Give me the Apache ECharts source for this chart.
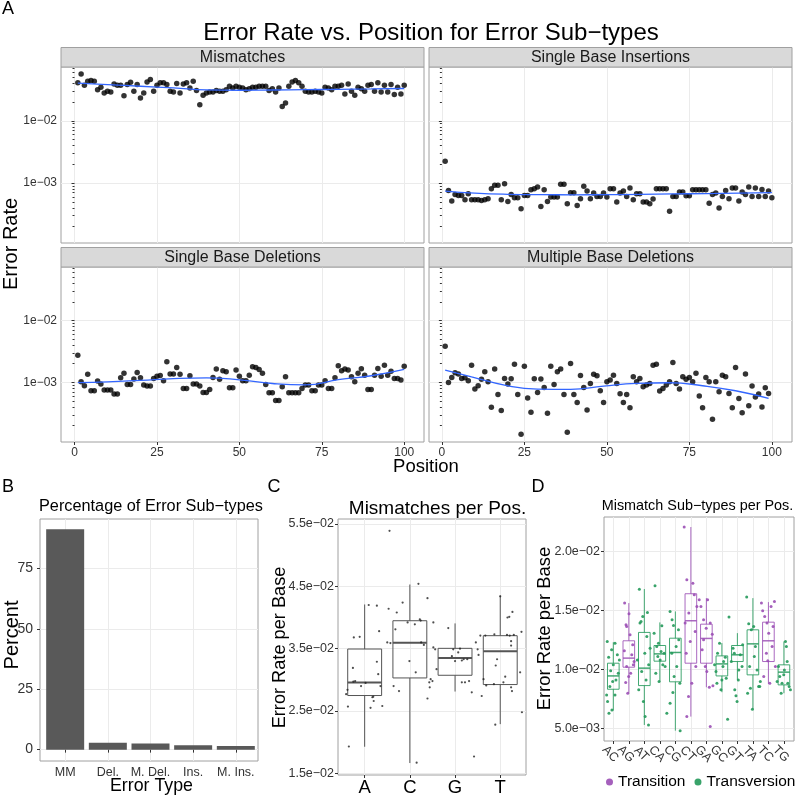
<!DOCTYPE html>
<html><head><meta charset="utf-8">
<script src="https://cdn.jsdelivr.net/npm/echarts@6/dist/echarts.min.js"></script>
<style>html,body{margin:0;padding:0;background:#fff}#c{width:800px;height:797px}</style>
</head><body><div id="c"></div>
<script>
const FONT = 'Liberation Sans, Arial, Helvetica, sans-serif';

// ---------- Panel A ----------
const facetTitles = ['Mismatches', 'Single Base Insertions', 'Single Base Deletions', 'Multiple Base Deletions'];
const mismatchRate = [
.0406,.0566,.0372,.0431,.0443,.0431,.0316,.0345,.0280,.0297,
.0290,.0391,.0372,.0372,.0253,.0381,.0416,.0297,.0381,.0232,
.0280,.0421,.0459,.0297,.0372,.0406,.0406,.0381,.0297,.0290,
.0396,.0280,.0391,.0406,.0337,.0431,.0305,.0181,.0256,.0280,
.0290,.0290,.0305,.0297,.0297,.0316,.0358,.0337,.0358,.0345,
.0337,.0316,.0328,.0345,.0345,.0358,.0358,.0358,.0305,.0328,
.0290,.0337,.0170,.0193,.0358,.0421,.0443,.0406,.0358,.0297,
.0290,.0290,.0297,.0290,.0280,.0345,.0337,.0316,.0358,.0358,
.0372,.0269,.0391,.0297,.0256,.0345,.0328,.0297,.0372,.0381,
.0297,.0406,.0290,.0372,.0290,.0381,.0263,.0345,.0269,.0372];
const insertionRate = [
.00224,.000762,.000513,.000657,.000634,.000634,.000540,.000673,.000540,.000540,
.000540,.000526,.000540,.000560,.000811,.000918,.000918,.000540,.000977,.000507,
.000657,.000581,.000581,.000386,.000634,.000634,.000782,.000811,.000863,.000421,
.000782,.000507,.000595,.000595,.000595,.000953,.000953,.000465,.000699,.000699,
.000437,.000560,.000885,.000744,.000560,.000690,.000610,.000610,.000690,.000595,
.000811,.000811,.000494,.000690,.000744,.000610,.000832,.000540,.000673,.000673,
.000494,.000494,.000465,.000553,.000811,.000811,.000811,.000811,.000354,.000610,
.000610,.000716,.000716,.000625,.000625,.000782,.000782,.000782,.000782,.000782,
.000476,.000657,.000690,.000396,.000610,.000762,.000560,.000832,.000832,.000513,
.000716,.000657,.000863,.000610,.000832,.000610,.000791,.000610,.000744,.000581];
const deletionRate = [
.00275,.00102,.000883,.00135,.000733,.000733,.00105,.000940,.000751,.000751,
.000751,.000648,.000648,.00119,.00140,.000927,.000927,.00113,.00145,.00119,
.000904,.000871,.000871,.00116,.00126,.00129,.00106,.00215,.00136,.00136,
.00174,.00135,.000800,.000800,.00128,.000940,.000940,.000871,.000689,.000689,
.000771,.00120,.00164,.00112,.00154,.00148,.000819,.000819,.00158,.00126,
.00106,.00106,.00131,.00179,.00174,.00162,.00140,.000927,.000680,.000680,
.000512,.000512,.000851,.00123,.000680,.000680,.000680,.000680,.000800,.000904,
.000904,.000733,.000733,.000904,.000904,.00106,.000800,.000800,.00119,.00185,
.00154,.00164,.00158,.00123,.00102,.00140,.00166,.00131,.000771,.000771,
.00131,.00168,.00126,.00190,.00131,.00152,.00116,.00116,.00109,.00183];
const multiDeletionRate = [
.00385,.00100,.00120,.00143,.00136,.00116,.00119,.00106,.00190,.000780,
.000883,.00112,.00148,.00102,.000395,.00164,.000640,.000353,.00116,.000940,
.00115,.00197,.000640,.000145,.00183,.000558,.000328,.00115,.000689,.00113,
.000830,.000316,.00183,.000927,.00148,.00164,.000640,.000156,.00202,.000640,
.000475,.00129,.000830,.000357,.000962,.00135,.00128,.000733,.000475,.00102,
.00109,.00131,.000962,.000656,.000475,.000640,.000390,.00123,.00102,.00116,
.000851,.000904,.000962,.00190,.00197,.000724,.000800,.000904,.00102,.00210,
.000962,.000780,.00123,.00112,.00120,.00102,.00140,.000601,.000390,.00120,
.00102,.000253,.00102,.000706,.00131,.00123,.000664,.000390,.00174,.000551,
.000324,.00136,.000420,.000871,.000579,.000648,.000400,.000819,.000664];
const smoothX = [1,10,20,30,40,50,60,70,80,90,100];
const mismatchSmooth = [.0403,.0381,.0358,.0337,.0313,.0309,.0312,.0316,.0320,.0324,.0330];
const insertionSmooth = [.000744,.000690,.000660,.000650,.000648,.000650,.000658,.000668,.000678,.000688,.000700];
const deletionSmooth = [.00099,.00102,.00108,.00115,.00118,.00110,.00096,.00091,.00111,.00128,.00162];
const multiSmoothX = [1,9,19,29,39,49,59,69,79,89,99];
const multiDeletionSmooth = [.00158,.00123,.000904,.000779,.000771,.000871,.000964,.000986,.000883,.000733,.000552];
const positionTicks = [0,25,50,75,100];
const rateTicks = [0.001, 0.01];
const rateTickLabels = ['1e\u221203', '1e\u221202'];

// ---------- Panel B ----------
const errorTypes = ['MM', 'Del.', 'M. Del.', 'Ins.', 'M. Ins.'];
const errorPercent = [91.2, 2.9, 2.5, 1.8, 1.5];
const percentTicks = [0, 25, 50, 75];

// ---------- Panel C ----------
const bases = ['A', 'C', 'G', 'T'];
const baseBoxes = [ // [lower whisker, Q1, median, Q3, upper whisker]
  [0.01926, 0.02748, 0.02956, 0.03494, 0.04209],
  [0.01665, 0.0303, 0.03596, 0.03948, 0.04529],
  [0.02812, 0.03073, 0.0335, 0.03505, 0.03905],
  [0.02289, 0.02924, 0.03457, 0.03708, 0.04353]];
const baseJitterX = [
0.59,0.62,0.63,0.65,0.74,0.75,0.76,0.79,0.89,0.92,1.02,1.09,1.13,1.17,1.19,1.20,1.27,1.27,1.30,1.32,1.35,1.39,
1.50,1.53,1.55,1.57,1.64,1.68,1.71,1.76,1.84,1.95,1.99,2.11,2.13,2.15,2.19,2.22,2.24,2.25,2.31,2.39,2.39,2.43,2.44,2.46,2.52,2.52,
2.50,2.56,2.59,2.85,2.93,2.96,3.00,3.07,3.11,3.15,3.15,3.19,3.22,3.27,3.31,3.37,3.42,3.46,3.50,3.52,3.56,
3.59,3.63,3.67,3.69,3.86,3.87,3.89,3.90,3.93,4.00,4.07,4.11,4.15,4.16,4.20,4.21,4.24,4.24,4.24,4.26,4.27,4.30,4.44,4.47,4.48];
const baseJitterY = [
0.0277,0.0284,0.0257,0.0193,0.0319,0.0297,0.0368,0.0298,0.0369,0.0290,0.0295,0.0420,0.0255,0.0272,0.0273,0.0266,0.0419,0.0329,0.0309,0.0378,0.0290,0.0258,
0.0360,0.0414,0.0539,0.0359,0.0290,0.0381,0.0408,0.0282,0.0424,0.0392,0.0330,0.0389,0.0312,0.0167,0.0454,0.0397,0.0395,0.0360,0.0356,0.0431,0.0270,0.0296,0.0288,0.0301,0.0392,0.0352,
0.0298,0.0349,0.0317,0.0383,0.0338,0.0349,0.0330,0.0344,0.0350,0.0296,0.0331,0.0333,0.0296,0.0333,0.0298,0.0280,0.0177,0.0360,0.0349,0.0340,0.0371,
0.0274,0.0301,0.0371,0.0291,0.0293,0.0373,0.0228,0.0323,0.0333,0.0434,0.0296,0.0305,0.0372,0.0400,0.0401,0.0371,0.0355,0.0362,0.0288,0.0282,0.0409,0.0372,0.0312,0.0377,0.0248];
const baseTicks = [0.015, 0.025, 0.035, 0.045, 0.055];
const baseTickLabels = ['1.5e\u221202', '2.5e\u221202', '3.5e\u221202', '4.5e\u221202', '5.5e\u221202'];

// ---------- Panel D ----------
const subTypes = ['AC','AG','AT','CA','CG','CT','GA','GC','GT','TA','TC','TG'];
const subTypeClass = ['Transversion','Transition','Transversion','Transversion','Transversion','Transition',
                      'Transition','Transversion','Transversion','Transversion','Transition','Transversion'];
const subBoxes = [
  [0.0065, 0.00831, 0.00944, 0.01052, 0.0123],
  [0.00797, 0.01018, 0.01095, 0.01242, 0.01562],
  [0.00528, 0.00862, 0.0101, 0.01313, 0.01681],
  [0.00894, 0.01069, 0.01131, 0.01202, 0.01398],
  [0.0048, 0.00894, 0.01143, 0.01264, 0.01491],
  [0.00599, 0.01052, 0.01412, 0.01641, 0.02207],
  [0.00848, 0.01052, 0.01262, 0.01383, 0.01604],
  [0.00806, 0.00944, 0.01046, 0.01114, 0.01222],
  [0.0091, 0.01066, 0.01123, 0.01202, 0.01307],
  [0.00661, 0.00953, 0.01216, 0.01335, 0.01604],
  [0.00877, 0.01066, 0.01242, 0.014, 0.0157],
  [0.00797, 0.00868, 0.00976, 0.01038, 0.01236]];
const subJitterX = [
0.61,0.70,0.89,1.11,1.26,0.63,0.72,0.91,0.78,1.17,1.32,1.00,0.83,1.39,0.57,1.11,0.96,
1.73,1.82,1.86,2.01,2.08,1.93,1.80,2.19,2.29,2.12,1.99,1.71,2.25,2.34,1.86,
2.68,2.72,2.79,2.90,3.20,3.27,3.05,2.94,2.64,3.11,2.83,3.28,3.03,3.37,3.16,2.55,
3.69,3.63,3.80,4.13,4.28,4.02,3.87,4.19,3.74,3.95,4.34,4.08,3.91,
4.66,4.79,4.88,5.20,5.05,4.77,5.09,4.92,5.29,4.66,4.45,5.31,4.84,5.22,
5.57,5.74,5.87,5.96,6.13,6.22,5.70,6.32,6.06,5.74,5.85,6.28,5.63,6.39,
6.54,6.65,6.82,6.99,7.08,7.25,6.73,6.93,7.03,7.19,7.25,7.38,6.82,7.42,
7.53,7.62,7.72,7.85,8.00,8.11,8.22,7.94,8.28,8.37,7.68,8.07,
8.46,8.61,8.72,8.83,8.91,8.98,9.09,9.19,9.30,9.06,8.80,9.34,
9.60,9.73,9.90,10.05,10.16,10.27,10.37,9.84,9.66,9.97,10.44,10.09,9.79,10.48,
10.55,10.63,10.76,10.91,11.02,11.17,11.30,11.39,10.87,10.70,11.09,10.96,11.24,11.45,
11.65,11.73,11.88,11.99,12.10,12.16,12.25,12.34,12.42,11.82,11.56,12.21,12.03];
const subJitterY = [
.01236,.01103,.01165,.01222,.01123,.00726,.00627,.00656,.00854,.0091,.00967,.01038,.00987,.0108,.00783,.00783,.00896,
.01562,.01377,.01363,.01471,.01293,.00797,.00888,.01123,.01038,.00967,.00939,.01157,.01208,.01066,.01024,
.0168,.01392,.01406,.01448,.01482,.00528,.00599,.00726,.00826,.0091,.00981,.01038,.01137,.01179,.01278,.0108,
.01709,.01307,.01194,.01369,.01137,.0108,.01109,.01038,.00967,.00896,.01024,.01151,.01222,
.01491,.0142,.01372,.01335,.01194,.01137,.01024,.00939,.00882,.00712,.00627,.0048,.00803,.0125,
.02207,.0176,.01477,.01236,.01731,.01632,.01137,.01024,.00882,.00599,.00769,.01321,.01392,.01533,
.0159,.01533,.0142,.01349,.0159,.01392,.01165,.01024,.00981,.00848,.00514,.01298,.0125,.0086,
.01038,.00981,.01137,.01222,.0091,.01066,.01103,.00826,.00925,.00576,.00882,.01024,
.01443,.01066,.01179,.00826,.00775,.00726,.00995,.01123,.01024,.0091,.01137,.01208,
.01613,.01386,.01335,.01363,.01194,.00995,.00854,.0084,.00797,.00661,.00854,.01109,.01024,.00896,
.01562,.01497,.01448,.01392,.01307,.01533,.01363,.01576,.01137,.00939,.00882,.01072,.01194,.01024,
.01024,.00939,.00882,.00953,.01236,.01194,.00882,.00854,.00826,.00797,.00896,.01066,.00995];
const subTicks = [0.005, 0.01, 0.015, 0.02];
const subTickLabels = ['5.0e\u221203', '1.0e\u221202', '1.5e\u221202', '2.0e\u221202'];
const classNames = ['Transition', 'Transversion'];
const classColors = {Transition: '#9b4fb5', Transversion: '#23995a'};

// ---------- build ----------
const chart = echarts.init(document.getElementById('c'), null, {renderer: 'canvas'});
const GRID_LINE = '#ebebeb', BORDER = '#a0a0a0', TXT = '#333';

const gridsA = [
  {left: 61, top: 67, width: 363, height: 176},
  {left: 429, top: 67, width: 363, height: 176},
  {left: 61, top: 267, width: 363, height: 175},
  {left: 429, top: 267, width: 363, height: 175}];
const grids = gridsA.concat([
  {left: 40, top: 519, width: 218, height: 242},
  {left: 338, top: 519, width: 188, height: 257},
  {left: 604, top: 517, width: 190, height: 224}]).map(g => Object.assign({show: true, borderColor: BORDER, borderWidth: 1, backgroundColor: '#fff'}, g));

function nearestLabel(ticks, labels, v, log) {
  let best = 0, bd = Infinity;
  ticks.forEach((t, i) => { const d = log ? Math.abs(Math.log10(t) - Math.log10(v)) : Math.abs(t - v); if (d < bd) { bd = d; best = i; } });
  return labels[best];
}
const tickStyle = {length: 3, lineStyle: {color: TXT, width: 1}};
const xAxes = [], yAxes = [];
for (let i = 0; i < 4; i++) {
  const bottom = i >= 2, left = i % 2 === 0;
  xAxes.push({type: 'value', gridIndex: i, min: left ? -4.1 : -3.9, max: left ? 106 : 106.1,
    axisLine: {show: false},
    axisTick: Object.assign({show: bottom, customValues: positionTicks}, tickStyle),
    axisLabel: {show: bottom, customValues: positionTicks, margin: 5, fontSize: 12, color: TXT, fontFamily: FONT,
      showMinLabel: true, showMaxLabel: true},
    splitLine: {show: true, lineStyle: {color: GRID_LINE}}});
  yAxes.push({type: 'log', logBase: 10, gridIndex: i, min: 1.09e-4, max: 7.3e-2,
    axisLine: {show: false},
    axisTick: Object.assign({show: true, customValues: rateTicks}, tickStyle),
    minorTick: {show: true, splitNumber: 9, length: 2, lineStyle: {color: TXT, width: 1}},
    axisLabel: {show: left, customValues: rateTicks, margin: 4, fontSize: 12, color: TXT, fontFamily: FONT,
      formatter: v => nearestLabel(rateTicks, rateTickLabels, v, true)},
    splitLine: {show: true, lineStyle: {color: GRID_LINE}}});
}
// B
xAxes.push({type: 'value', gridIndex: 4, min: 0.41, max: 5.52,
  axisLine: {show: false}, axisTick: Object.assign({show: true, customValues: [1,2,3,4,5]}, tickStyle),
  axisLabel: {customValues: [1,2,3,4,5], margin: 5, fontSize: 12.5, color: TXT, fontFamily: FONT,
    showMinLabel: true, showMaxLabel: true, formatter: v => errorTypes[Math.round(v) - 1]},
  splitLine: {show: true, lineStyle: {color: GRID_LINE}}});
yAxes.push({type: 'value', gridIndex: 4, min: -4.7, max: 95.4,
  axisLine: {show: false}, axisTick: Object.assign({show: true, customValues: percentTicks}, tickStyle),
  axisLabel: {customValues: percentTicks, margin: 7, fontSize: 14, color: TXT, fontFamily: FONT},
  splitLine: {show: true, lineStyle: {color: GRID_LINE}}});
// C
xAxes.push({type: 'value', gridIndex: 5, min: 0.41, max: 4.57,
  axisLine: {show: false}, axisTick: Object.assign({show: true, customValues: [1,2,3,4]}, tickStyle),
  axisLabel: {customValues: [1,2,3,4], margin: 3, fontSize: 18.5, color: '#000', fontFamily: FONT,
    showMinLabel: true, showMaxLabel: true, formatter: v => bases[Math.round(v) - 1]},
  splitLine: {show: true, lineStyle: {color: GRID_LINE}}});
yAxes.push({type: 'value', gridIndex: 5, min: 0.01473, max: 0.0558,
  axisLine: {show: false}, axisTick: Object.assign({show: true, customValues: baseTicks}, tickStyle),
  axisLabel: {customValues: baseTicks, margin: 4, fontSize: 12.5, color: TXT, fontFamily: FONT,
    formatter: v => nearestLabel(baseTicks, baseTickLabels, v, false)},
  splitLine: {show: true, lineStyle: {color: GRID_LINE}}});
// D (tick labels are drawn by a custom series below, rotated like ggplot's)
const subTickPos = subTypes.map((s, i) => i + 1);
const dYMin = 0.00392, dYMax = 0.02292;
xAxes.push({type: 'value', gridIndex: 6, min: 0.4, max: 12.65,
  axisLine: {show: false}, axisTick: Object.assign({show: true, customValues: subTickPos}, tickStyle),
  axisLabel: {show: false, customValues: subTickPos},
  splitLine: {show: true, lineStyle: {color: GRID_LINE}}});
yAxes.push({type: 'value', gridIndex: 6, min: dYMin, max: dYMax,
  axisLine: {show: false}, axisTick: Object.assign({show: true, customValues: subTicks}, tickStyle),
  axisLabel: {customValues: subTicks, margin: 4, fontSize: 12.5, color: TXT, fontFamily: FONT,
    formatter: v => nearestLabel(subTicks, subTickLabels, v, false)},
  splitLine: {show: true, lineStyle: {color: GRID_LINE}}});

const series = [];
const panelRates = [mismatchRate, insertionRate, deletionRate, multiDeletionRate];
const panelSmoothX = [smoothX, smoothX, smoothX, multiSmoothX];
const panelSmoothY = [mismatchSmooth, insertionSmooth, deletionSmooth, multiDeletionSmooth];
for (let i = 0; i < 4; i++) {
  series.push({type: 'scatter', name: facetTitles[i], xAxisIndex: i, yAxisIndex: i, symbolSize: 5.5,
    itemStyle: {color: '#000'}, data: panelRates[i].map((v, k) => [k + 1, v]), z: 3});
  series.push({type: 'line', name: facetTitles[i] + ' smooth', xAxisIndex: i, yAxisIndex: i, smooth: 0.5,
    showSymbol: false, symbol: 'none', lineStyle: {color: '#3366ff', width: 1.3},
    data: panelSmoothX[i].map((x, k) => [x, panelSmoothY[i][k]]), z: 4});
}
// B bars
series.push({type: 'bar', name: 'Percent', xAxisIndex: 4, yAxisIndex: 4, barWidth: 38,
  itemStyle: {color: '#595959'}, data: errorPercent.map((v, k) => [k + 1, v])});

function boxSeries(name, xi, data, color, opacity, medW) {
  return {type: 'custom', name: name, xAxisIndex: xi, yAxisIndex: xi,
    encode: {x: 0, y: [1, 2, 3, 4, 5]}, data: data,
    renderItem: function (params, api) {
      const x = api.value(0);
      const p = [1, 2, 3, 4, 5].map(k => api.coord([x, api.value(k)]));
      const w = api.size([0.75, 0])[0];
      const st = {stroke: color, lineWidth: 1, fill: null, opacity: opacity};
      return {type: 'group', children: [
        {type: 'line', shape: {x1: p[0][0], y1: p[0][1], x2: p[1][0], y2: p[1][1]}, style: st},
        {type: 'line', shape: {x1: p[3][0], y1: p[3][1], x2: p[4][0], y2: p[4][1]}, style: st},
        {type: 'rect', shape: {x: p[1][0] - w / 2, y: p[3][1], width: w, height: p[1][1] - p[3][1]}, style: st},
        {type: 'line', shape: {x1: p[2][0] - w / 2, y1: p[2][1], x2: p[2][0] + w / 2, y2: p[2][1]},
          style: {stroke: color, lineWidth: medW, opacity: opacity}}]};
    }, z: 2};
}
// C
series.push(boxSeries('Base boxes', 5, baseBoxes.map((b, k) => [k + 1].concat(b)), '#555', 1, 2));
series.push({type: 'scatter', name: 'Base points', xAxisIndex: 5, yAxisIndex: 5, symbolSize: 2.2,
  itemStyle: {color: '#222'}, data: baseJitterX.map((x, k) => [x, baseJitterY[k]]), z: 3});
// D
classNames.forEach(cn => {
  const idx = subTypes.map((s, i) => i).filter(i => subTypeClass[i] === cn);
  series.push(boxSeries(cn + ' boxes', 6, idx.map(i => [i + 1].concat(subBoxes[i])), classColors[cn], 0.85, 1.5));
});
classNames.forEach(cn => {
  const pts = [];
  subJitterX.forEach((x, k) => { if (subTypeClass[Math.round(x) - 1] === cn) pts.push([x, subJitterY[k]]); });
  series.push({type: 'scatter', name: cn, xAxisIndex: 6, yAxisIndex: 6, symbolSize: 3,
    itemStyle: {color: classColors[cn], opacity: 0.9}, data: pts, z: 3});
});
// D rotated category labels, positioned through the axis scale
series.push({type: 'custom', name: 'Sub-type labels', xAxisIndex: 6, yAxisIndex: 6, clip: false, silent: true,
  data: subTickPos.map(x => [x, dYMin]),
  renderItem: function (params, api) {
    const p = api.coord([api.value(0), api.value(1)]);
    return {type: 'text', x: p[0] - 3, y: p[1] + 13, rotation: -Math.PI / 4,
      style: {text: subTypes[params.dataIndex], fontSize: 12.5, fontFamily: FONT, fill: TXT,
        align: 'center', verticalAlign: 'middle'}};
  }, z: 5});

function txt(text, x, y, size, opts) {
  return Object.assign({type: 'text', x: x, y: y, silent: true, z: 10,
    style: {text: text, fontSize: size, fontFamily: FONT, fill: '#000', align: 'center', verticalAlign: 'middle'}}, opts || {});
}
const graphic = [];
gridsA.forEach((g, i) => {
  graphic.push({type: 'rect', shape: {x: g.left, y: g.top - 19.5, width: g.width, height: 19.5},
    style: {fill: '#d9d9d9', stroke: BORDER, lineWidth: 1}, z: 5});
  graphic.push(txt(facetTitles[i], g.left + g.width / 2, g.top - 9.5, 16, {style: {text: facetTitles[i], fontSize: 16, fontFamily: FONT, fill: '#1a1a1a', align: 'center', verticalAlign: 'middle'}}));
});
graphic.push(txt('Error Rate vs. Position for Error Sub\u2212types', 431, 33.5, 24));
graphic.push(txt('A', 8, 9, 18));
graphic.push(txt('Error Rate', 11.5, 244, 20, {rotation: Math.PI / 2}));
graphic.push(txt('Position', 426, 466.5, 18.5));
graphic.push(txt('B', 8, 487, 18));
graphic.push(txt('Percentage of Error Sub\u2212types', 151, 507, 16.3));
graphic.push(txt('Percent', 12, 635, 20, {rotation: Math.PI / 2}));
graphic.push(txt('Error Type', 151.5, 786, 17.8));
graphic.push(txt('C', 274, 487, 18));
graphic.push(txt('Mismatches per Pos.', 437.5, 508.5, 19));
graphic.push(txt('Error Rate per Base', 279.5, 647.5, 18.2, {rotation: Math.PI / 2}));
graphic.push(txt('D', 538, 487, 18));
graphic.push(txt('Mismatch Sub\u2212types per Pos.', 697.5, 506.5, 14.4));
graphic.push(txt('Error Rate per Base', 545, 628.5, 18.4, {rotation: Math.PI / 2}));

chart.setOption({
  animation: false,
  backgroundColor: '#fff',
  textStyle: {fontFamily: FONT},
  grid: grids,
  xAxis: xAxes,
  yAxis: yAxes,
  legend: {data: classNames, left: 606, top: 774, padding: 0, icon: 'circle', itemWidth: 7, itemHeight: 7,
    itemGap: 9, selectedMode: false, textStyle: {fontSize: 15.5, fontFamily: FONT, color: '#000'}},
  series: series,
  graphic: graphic
});
</script></body></html>
